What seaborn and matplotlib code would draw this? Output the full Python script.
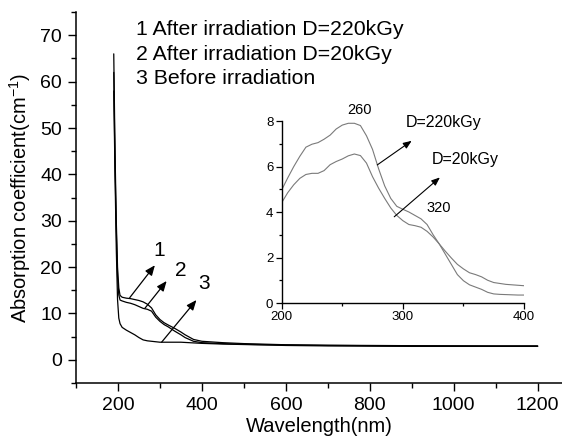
import pandas as pd
import matplotlib
matplotlib.use("Agg")
import matplotlib.pyplot as plt
import seaborn as sns
from matplotlib.ticker import MultipleLocator

# main spectra (absorption coefficient, cm^-1)
wl_main = [190, 193, 196, 199, 202, 205, 210, 220, 230, 240, 250, 260, 270, 280, 290,
           300, 310, 320, 335, 350, 360, 380, 400, 450, 500, 600, 700, 800, 900, 1000,
           1100, 1200]
abs_220kgy = [66, 45, 30, 20, 15.5, 13.9, 13.5, 13.3, 13.2, 13.0, 12.8, 12.5, 12.0, 11.2, 9.7,
              8.7, 8.0, 7.5, 6.8, 6.0, 5.4, 4.4, 4.0, 3.7, 3.5, 3.25, 3.15, 3.1, 3.05, 3.0,
              3.0, 3.0]
abs_20kgy = [62, 42, 28, 18, 14.0, 12.9, 12.7, 12.4, 12.2, 11.9, 11.5, 11.1, 10.9, 10.5, 9.2,
             8.3, 7.6, 7.1, 6.2, 5.4, 4.8, 4.0, 3.7, 3.5, 3.35, 3.2, 3.1, 3.05, 3.0, 3.0,
             2.95, 2.95]
abs_before = [58, 40, 24, 13, 9.0, 7.8, 7.0, 6.4, 5.9, 5.4, 4.8, 4.3, 4.1, 4.0, 3.9,
              3.8, 3.8, 3.8, 3.8, 3.8, 3.75, 3.65, 3.55, 3.4, 3.3, 3.1, 3.0, 2.95, 2.9, 2.9,
              2.9, 2.9]

# inset: 200-400 nm
wl_inset = list(range(200, 401, 5))
ins_220kgy = [4.97, 5.5, 6.0, 6.45, 6.85, 6.98, 7.05, 7.2, 7.38, 7.65, 7.82, 7.9, 7.9, 7.8,
              7.35, 6.75, 5.9, 5.15, 4.6, 4.25, 4.12, 4.0, 3.85, 3.7, 3.45, 3.0, 2.6, 2.15,
              1.7, 1.25, 0.98, 0.8, 0.7, 0.6, 0.47, 0.4, 0.38, 0.37, 0.36, 0.35, 0.35]
ins_20kgy = [4.41, 4.85, 5.2, 5.48, 5.65, 5.7, 5.7, 5.82, 6.08, 6.22, 6.33, 6.47, 6.55, 6.48,
             6.15, 5.55, 5.05, 4.6, 4.18, 3.85, 3.62, 3.45, 3.4, 3.33, 3.15, 2.9, 2.6, 2.28,
             1.98, 1.7, 1.5, 1.33, 1.25, 1.15, 1.0, 0.9, 0.86, 0.82, 0.8, 0.78, 0.76]

legend_lines = ["1 After irradiation D=220kGy",
                "2 After irradiation D=20kGy",
                "3 Before irradiation"]

sns.set_style("ticks")
plt.rcParams['font.family'] = ['Liberation Sans', 'DejaVu Sans']
plt.rcParams['mathtext.default'] = 'regular'
for k in ['text.color', 'axes.labelcolor', 'xtick.color', 'ytick.color', 'axes.edgecolor']:
    plt.rcParams[k] = 'black'

main_df = pd.DataFrame({
    'wl': wl_main * 3,
    'abs': abs_220kgy + abs_20kgy + abs_before,
    'curve': ['1'] * len(wl_main) + ['2'] * len(wl_main) + ['3'] * len(wl_main),
})
inset_df = pd.DataFrame({
    'wl': wl_inset * 2,
    'abs': ins_220kgy + ins_20kgy,
    'curve': ['220'] * len(wl_inset) + ['20'] * len(wl_inset),
})

fig = plt.figure(figsize=(5.62, 4.41), dpi=100)
ax = fig.add_axes([0.1352, 0.1315, 0.8648, 0.841])

sns.lineplot(data=main_df, x='wl', y='abs', hue='curve', units='curve', estimator=None,
             palette=['black'] * 3, linewidth=0.9, legend=False, ax=ax)

ax.set_xlim(100, 1258)
ax.set_ylim(-5, 75)
ax.xaxis.set_major_locator(MultipleLocator(200))
ax.xaxis.set_minor_locator(MultipleLocator(100))
ax.yaxis.set_major_locator(MultipleLocator(10))
ax.yaxis.set_minor_locator(MultipleLocator(5))
ax.tick_params(which='major', length=6, width=1, labelsize=14, pad=4)
ax.tick_params(which='minor', length=3.5, width=1)
ax.set_xlabel('Wavelength(nm)', fontsize=14.5, labelpad=2)
ax.set_ylabel('Absorption coefficient(cm$^{-1}$)', fontsize=14.5, labelpad=5)
sns.despine(ax=ax)
for s in ['left', 'bottom']:
    ax.spines[s].set_linewidth(1.1)

# legend-like text block
for i, line in enumerate(legend_lines):
    ax.text(243, 71.2 - 5.25 * i, line, fontsize=15.3, va='center', ha='left')

arrow = dict(arrowstyle='-|>,head_length=0.6,head_width=0.25', color='black', lw=0.9,
             shrinkA=0, shrinkB=0)
ax.annotate('', xy=(288, 20.4), xytext=(228, 13.4), arrowprops=arrow)
ax.annotate('', xy=(316, 17.0), xytext=(264, 11.1), arrowprops=arrow)
ax.annotate('', xy=(387, 12.9), xytext=(304, 3.8), arrowprops=arrow)
ax.text(299, 23.6, '1', fontsize=15, ha='center', va='center')
ax.text(350, 19.3, '2', fontsize=15, ha='center', va='center')
ax.text(405, 16.5, '3', fontsize=15, ha='center', va='center')

# inset
axin = fig.add_axes([0.5012, 0.3129, 0.4312, 0.4127])
sns.lineplot(data=inset_df, x='wl', y='abs', hue='curve', units='curve', estimator=None,
             palette=['#7a7a7a'] * 2, linewidth=0.8, legend=False, ax=axin)
axin.set_xlim(200, 400)
axin.set_ylim(0, 8)
axin.set_xlabel('')
axin.set_ylabel('')
axin.xaxis.set_major_locator(MultipleLocator(100))
axin.xaxis.set_minor_locator(MultipleLocator(50))
axin.yaxis.set_major_locator(MultipleLocator(2))
axin.yaxis.set_minor_locator(MultipleLocator(1))
axin.tick_params(which='major', length=4, width=0.9, labelsize=9.5, pad=2)
axin.tick_params(which='minor', length=2.5, width=0.9)
axin.patch.set_alpha(0)
sns.despine(ax=axin)
for s in ['left', 'bottom']:
    axin.spines[s].set_linewidth(1.0)

arrow_in = dict(arrowstyle='-|>,head_length=0.5,head_width=0.2', color='black', lw=0.8,
                shrinkA=0, shrinkB=0)
axin.annotate('', xy=(307.3, 7.13), xytext=(278.9, 6.07), arrowprops=arrow_in)
axin.annotate('', xy=(330.6, 5.52), xytext=(292.9, 3.79), arrowprops=arrow_in)
axin.text(264.6, 8.48, '260', fontsize=10.5, ha='center', va='center')
axin.text(333.7, 7.93, 'D=220kGy', fontsize=11.5, ha='center', va='center')
axin.text(351.2, 6.29, 'D=20kGy', fontsize=11.5, ha='center', va='center')
axin.text(329.2, 4.19, '320', fontsize=10.5, ha='center', va='center')

fig.savefig('out.png', dpi=100)
